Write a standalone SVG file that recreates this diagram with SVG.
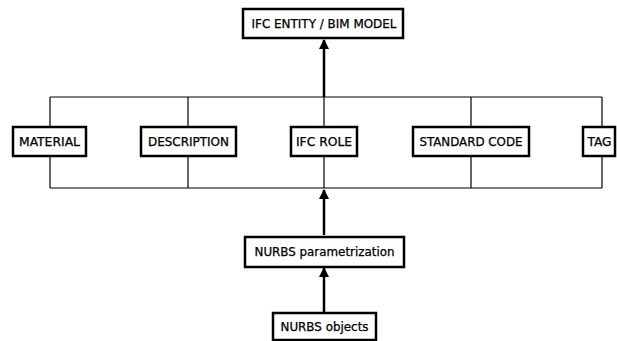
<svg xmlns="http://www.w3.org/2000/svg" width="617" height="341" viewBox="0 0 617 341">
<style>
.box{fill:#fff;stroke:#000;stroke-width:2.5}
.t{font-family:"DejaVu Sans Condensed","Liberation Sans",sans-serif;font-size:12px;fill:#000;text-anchor:middle;stroke:#000;stroke-width:0.25}
.ln{stroke:#000;stroke-width:1.2;fill:none}
.ar{stroke:#000;stroke-width:2.5;fill:none}
</style>
<defs>
<marker id="ah" viewBox="0 0 10 10" refX="9" refY="5" markerWidth="4" markerHeight="4.4" orient="auto" markerUnits="strokeWidth">
<path d="M0,0 L10,5 L0,10 z" fill="#000"/>
</marker>
</defs>
<g id="connectors">
<path class="ln" d="M50,97 H602 M50,188 H602"/>
<path class="ln" d="M50,97 V127 M50,156 V188"/>
<path class="ln" d="M188,97 V127 M188,156 V188"/>
<path class="ln" d="M324,97 V127 M324,156 V188"/>
<path class="ln" d="M471,97 V127 M471,156 V188"/>
<path class="ln" d="M602,97 V127 M602,156 V188"/>
<line class="ar" x1="324" y1="97" x2="324" y2="40" marker-end="url(#ah)"/>
<line class="ar" x1="324" y1="235" x2="324" y2="190" marker-end="url(#ah)"/>
<line class="ar" x1="324" y1="312" x2="324" y2="268" marker-end="url(#ah)"/>
</g>
<g id="ifc-entity"><rect class="box" x="243" y="9" width="160" height="29"/><text class="t" x="324" y="28" textLength="145" lengthAdjust="spacingAndGlyphs">IFC ENTITY / BIM MODEL</text></g>
<g id="material"><rect class="box" x="13" y="127" width="73" height="29"/><text class="t" x="49.5" y="146" textLength="61" lengthAdjust="spacingAndGlyphs">MATERIAL</text></g>
<g id="description"><rect class="box" x="141" y="127" width="95" height="29"/><text class="t" x="188.5" y="146" textLength="81" lengthAdjust="spacingAndGlyphs">DESCRIPTION</text></g>
<g id="ifc-role"><rect class="box" x="291" y="127" width="66" height="29"/><text class="t" x="324" y="146" textLength="56" lengthAdjust="spacingAndGlyphs">IFC ROLE</text></g>
<g id="standard-code"><rect class="box" x="413" y="127" width="116" height="29"/><text class="t" x="471" y="146" textLength="103" lengthAdjust="spacingAndGlyphs">STANDARD CODE</text></g>
<g id="tag"><rect class="box" x="583" y="127" width="32" height="29"/><text class="t" x="599.5" y="146" textLength="24" lengthAdjust="spacingAndGlyphs">TAG</text></g>
<g id="nurbs-param"><rect class="box" x="245" y="237" width="159" height="30"/><text class="t" x="324.5" y="256" textLength="140" lengthAdjust="spacingAndGlyphs">NURBS parametrization</text></g>
<g id="nurbs-objects"><rect class="box" x="273" y="313" width="103" height="27"/><text class="t" x="324.5" y="331" textLength="88" lengthAdjust="spacingAndGlyphs">NURBS objects</text></g>
</svg>
